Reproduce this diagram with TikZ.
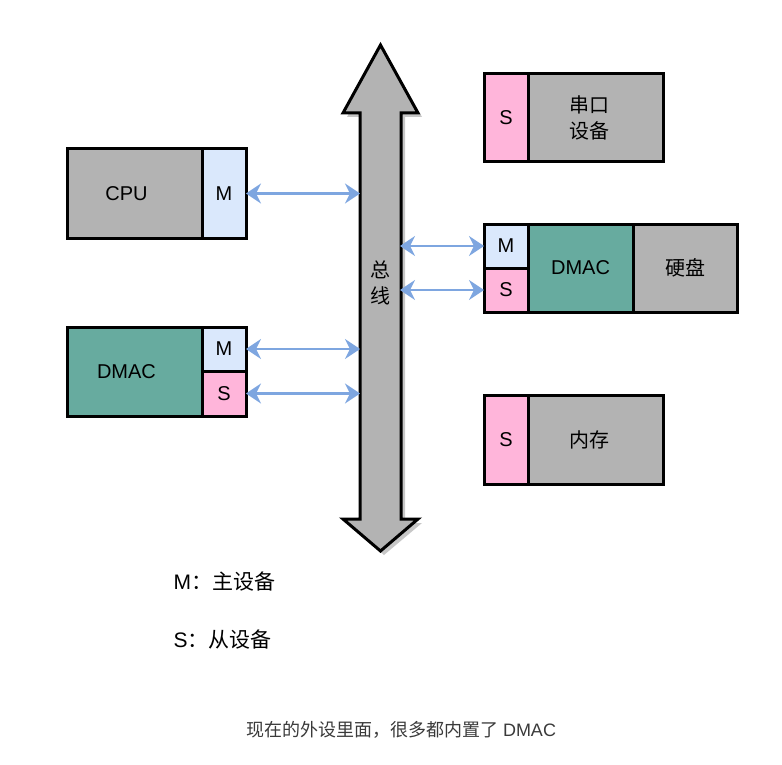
\documentclass[tikz,border=0pt]{standalone}
\usepackage{fontspec}
\setmainfont{Liberation Sans}
\newfontfamily\cjk{Noto Sans CJK SC}
\usetikzlibrary{arrows.meta}

\definecolor{boxgray}{HTML}{B3B3B3}
\definecolor{masterblue}{HTML}{DAE8FC}
\definecolor{slavepink}{HTML}{FFB5DA}
\definecolor{dmacteal}{HTML}{67AB9F}
\definecolor{linkblue}{HTML}{7EA6E0}
\definecolor{notegray}{HTML}{3A3A3A}

\begin{document}
\begin{tikzpicture}[x=1pt,y=-1pt,
  txt/.style={font=\fontsize{20}{26}\selectfont},
  box/.style={draw=black, line width=3pt, inner sep=0pt, outer sep=0pt,
    anchor=north west, txt},
  greybox/.style={box, fill=boxgray},
  masterbox/.style={box, fill=masterblue},
  slavebox/.style={box, fill=slavepink},
  dmacbox/.style={box, fill=dmacteal},
  link/.style={draw=linkblue, line width=2.2pt,
    {Stealth[length=15pt,width=20pt,inset=5pt]}-{Stealth[length=15pt,width=20pt,inset=5pt]}},
  every label/.style={txt}
]
\useasboundingbox (0,0) rectangle (782,765);

% system bus: vertical double-headed arrow with a soft drop shadow
\fill[black!22] (384,49) -- (422,117) -- (405,117) -- (405,523) -- (422,523)
  -- (384,555) -- (347,523) -- (364,523) -- (364,117) -- (347,117) -- cycle;
\draw[line width=3pt, line join=miter, fill=boxgray]
  (380.5,45) -- (418,113) -- (401,113) -- (401,519) -- (418,519)
  -- (380.5,551) -- (343,519) -- (360,519) -- (360,113) -- (343,113) -- cycle;
\node[txt, align=center] (buslbl) at (380,283) {\cjk 总\\\cjk 线};

% attachment points on the bus
\coordinate (busL1) at (360,193.5);
\coordinate (busL2) at (360,349);
\coordinate (busL3) at (360,393.5);
\coordinate (busR1) at (400,246);
\coordinate (busR2) at (400,290);

% CPU
\node[greybox, minimum width=135pt, minimum height=89pt,
  label={[xshift=-8pt]center:CPU}] (cpu) at (67,149) {};
\node[masterbox, minimum width=44pt, minimum height=89pt] (cpuM) at (202,149) {M};

% stand-alone DMA controller
\node[dmacbox, minimum width=135pt, minimum height=89pt,
  label={[xshift=-8pt]center:DMAC}] (dmacL) at (67,327) {};
\node[masterbox, minimum width=44pt, minimum height=44pt] (dmacLM) at (202,327) {M};
\node[slavebox, minimum width=44pt, minimum height=45pt] (dmacLS) at (202,371) {S};

% serial device
\node[slavebox, minimum width=44pt, minimum height=88pt] (uartS) at (484,74) {S};
\node[greybox, minimum width=135pt, minimum height=88pt, align=center,
  label={[xshift=-6pt, align=center]center:{\cjk 串口}\\{\cjk 设备}}] (uart) at (528,74) {};

% hard disk with built-in DMAC
\node[masterbox, minimum width=44pt, minimum height=44pt] (diskM) at (484,224) {M};
\node[slavebox, minimum width=44pt, minimum height=44pt] (diskS) at (484,268) {S};
\node[dmacbox, minimum width=105pt, minimum height=88pt] (diskDMAC) at (528,224) {DMAC};
\node[greybox, minimum width=104pt, minimum height=88pt] (disk) at (633,224) {\cjk 硬盘};

% main memory
\node[slavebox, minimum width=44pt, minimum height=89pt] (memS) at (484,395) {S};
\node[greybox, minimum width=135pt, minimum height=89pt,
  label={[xshift=-6pt]center:{\cjk 内存}}] (mem) at (528,395) {};

% bus links
\draw[link] (cpuM.east) -- (busL1);
\draw[link] (dmacLM.east) -- (busL2);
\draw[link] (dmacLS.east) -- (busL3);
\draw[link] (busR1) -- (diskM.west);
\draw[link] (busR2) -- (diskS.west);

% legend
\node[font=\fontsize{21}{26}\selectfont, anchor=west] (legM) at (170,582) {M{\cjk ：主设备}};
\node[font=\fontsize{21}{26}\selectfont, anchor=west] (legS) at (170,640) {S{\cjk ：从设备}};

% caption
\node[font=\fontsize{18}{22}\selectfont, text=notegray] (note) at (401,730)
  {{\cjk 现在的外设里面，很多都内置了} DMAC};
\end{tikzpicture}
\end{document}
